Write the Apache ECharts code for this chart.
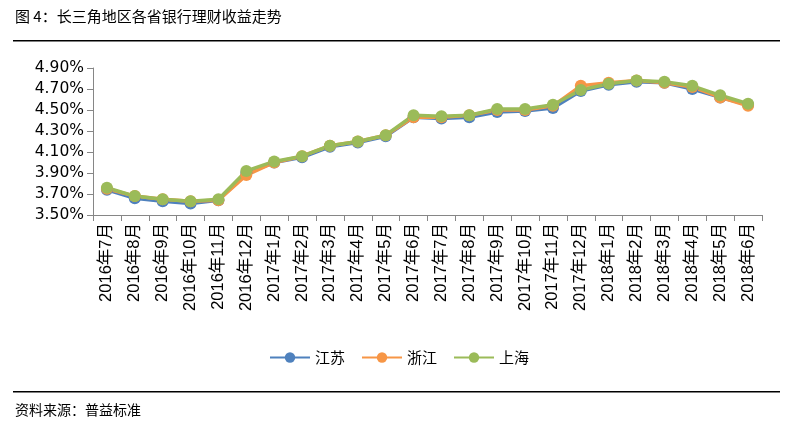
<!DOCTYPE html>
<html><head><meta charset="utf-8">
<script src="https://cdn.jsdelivr.net/npm/echarts@6/dist/echarts.min.js"></script>
<style>html,body{margin:0;padding:0;background:#fff}#c{width:798px;height:426px}</style>
</head><body><div id="c"></div>
<script>
const categories = ['2016年7月','2016年8月','2016年9月','2016年10月','2016年11月','2016年12月','2017年1月','2017年2月','2017年3月','2017年4月','2017年5月','2017年6月','2017年7月','2017年8月','2017年9月','2017年10月','2017年11月','2017年12月','2018年1月','2018年2月','2018年3月','2018年4月','2018年5月','2018年6月'];
const jiangsu = [3.74,3.66,3.63,3.61,3.64,3.90,4.00,4.05,4.15,4.19,4.25,4.43,4.42,4.43,4.48,4.49,4.52,4.68,4.74,4.77,4.76,4.70,4.62,4.55];
const zhejiang = [3.75,3.68,3.65,3.63,3.64,3.88,4.00,4.06,4.16,4.20,4.26,4.43,4.43,4.45,4.50,4.50,4.54,4.73,4.76,4.78,4.76,4.72,4.62,4.54];
const shanghai = [3.76,3.68,3.65,3.63,3.65,3.92,4.01,4.06,4.16,4.20,4.26,4.45,4.44,4.45,4.51,4.51,4.55,4.69,4.75,4.78,4.77,4.73,4.64,4.56];
const seriesNames = ['江苏','浙江','上海'];
const colors = ['#4F81BD','#F79646','#9BBB59'];
const FONT = '"Noto Sans CJK SC", sans-serif';
const chart = echarts.init(document.getElementById('c'));
function mk(name, data, color){
  return {name, type:'line', data, symbol:'circle', symbolSize:12,
    lineStyle:{width:3.5, color}, itemStyle:{color}, emphasis:{disabled:true}};
}
chart.setOption({
  animation:false,
  textStyle:{fontFamily:FONT},
  grid:{left:93, right:36, top:68, bottom:211, containLabel:false},
  legend:{data:seriesNames, top:345, left:'center', itemWidth:40, itemHeight:13, itemGap:16,
    textStyle:{fontSize:15, color:'#000', fontFamily:FONT}},
  xAxis:{type:'category', data:categories, boundaryGap:true,
    axisLine:{lineStyle:{color:'#868686', width:1}},
    axisTick:{show:true, alignWithLabel:false, interval:0, length:6, lineStyle:{color:'#868686'}},
    axisLabel:{interval:0, rotate:90, fontSize:16.5, color:'#000', margin:8, fontFamily:'"Liberation Sans", "Noto Sans CJK SC", sans-serif'}},
  yAxis:{type:'value', min:3.5, max:4.9, interval:0.2,
    splitLine:{show:false},
    axisLine:{show:true, lineStyle:{color:'#868686'}},
    axisTick:{show:true, length:6, lineStyle:{color:'#868686'}},
    axisLabel:{formatter:v=>v.toFixed(2)+'%', fontSize:15.5, color:'#000', margin:9, fontFamily:'"DejaVu Sans", sans-serif'}},
  series:[mk(seriesNames[0], jiangsu, colors[0]), mk(seriesNames[1], zhejiang, colors[1]), mk(seriesNames[2], shanghai, colors[2])],
  graphic:[
    {type:'text', left:15, top:9, style:{text:'图 4：长三角地区各省银行理财收益走势', font:'15px '+FONT, fill:'#000'}},
    {type:'rect', shape:{x:13, y:40, width:767, height:1.5}, style:{fill:'#000'}},
    {type:'rect', shape:{x:13, y:391, width:767, height:1.5}, style:{fill:'#000'}},
    {type:'text', left:15, top:403, style:{text:'资料来源：普益标准', font:'14px '+FONT, fill:'#000'}}
  ]
});
</script></body></html>
